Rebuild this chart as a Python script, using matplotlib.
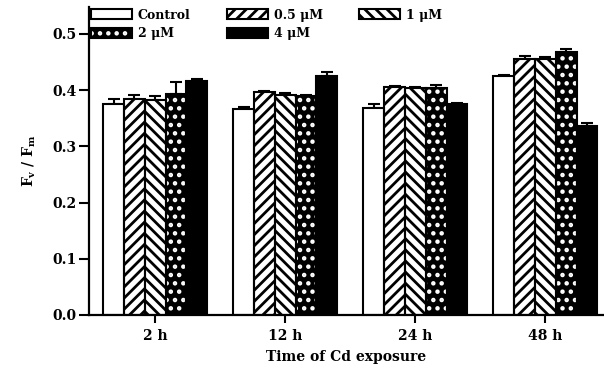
import numpy as np
import matplotlib
matplotlib.use('Agg')
import matplotlib.pyplot as plt
from matplotlib.patches import Patch

plt.rcParams['font.family'] = 'DejaVu Serif'
plt.rcParams['font.weight'] = 'bold'
plt.rcParams['axes.labelweight'] = 'bold'
plt.rcParams['mathtext.fontset'] = 'dejavuserif'
plt.rcParams['hatch.linewidth'] = 2.0

times = ['2 h', '12 h', '24 h', '48 h']
doses = ['Control', '0.5 μM', '1 μM', '2 μM', '4 μM']

# Fv/Fm per dose, one value per exposure time
control = [0.375, 0.367, 0.368, 0.425]
d05 = [0.385, 0.396, 0.405, 0.455]
d1 = [0.383, 0.391, 0.403, 0.456]
d2 = [0.393, 0.389, 0.404, 0.468]
d4 = [0.417, 0.426, 0.376, 0.336]

control_err = [0.010, 0.003, 0.007, 0.002]
d05_err = [0.007, 0.002, 0.002, 0.006]
d1_err = [0.006, 0.004, 0.002, 0.003]
d2_err = [0.022, 0.003, 0.006, 0.005]
d4_err = [0.003, 0.007, 0.002, 0.005]

vals = [control, d05, d1, d2, d4]
errs = [control_err, d05_err, d1_err, d2_err, d4_err]

fig = plt.figure(figsize=(6.04, 3.70), dpi=100)
ax = fig.add_axes([0.147, 0.149, 0.853, 0.832])

x = np.arange(len(times))
w = 0.16
styles = [
    dict(facecolor='white', edgecolor='black', hatch=None),
    dict(facecolor='white', edgecolor='black', hatch='///'),
    dict(facecolor='white', edgecolor='black', hatch='\\\\\\'),
    dict(facecolor='black', edgecolor='white', hatch='..'),
    dict(facecolor='black', edgecolor='black', hatch=None),
]

handles = []
for i in range(5):
    pos = x + (i - 2) * w
    st = styles[i]
    ax.bar(pos, vals[i], w, facecolor=st['facecolor'], edgecolor=st['edgecolor'],
           hatch=st['hatch'], linewidth=0, zorder=2)
    # outline drawn on top so white-hatched bars keep a black border
    ax.bar(pos, vals[i], w, facecolor='none', edgecolor='black', linewidth=1.5, zorder=3)
    ax.errorbar(pos, vals[i], yerr=[np.zeros(4), errs[i]], fmt='none',
                ecolor='black', elinewidth=1.5, capsize=4, capthick=1.5, zorder=1)
    handles.append((Patch(facecolor=st['facecolor'], edgecolor=st['edgecolor'],
                          hatch=st['hatch'], linewidth=0),
                    Patch(facecolor='none', edgecolor='black', linewidth=1.5)))

order = [0, 3, 1, 4, 2]
leg = ax.legend([handles[k] for k in order], [doses[k] for k in order],
                ncol=3, loc='upper left', bbox_to_anchor=(0.004, 0.995),
                frameon=False, fontsize=9, handlelength=3.3, handleheight=0.8,
                columnspacing=2.9, labelspacing=0.45, handletextpad=0.45,
                borderaxespad=0, borderpad=0)

ax.set_xlim(-0.51, 3.45)
ax.set_ylim(0, 0.548)
ax.set_xticks(x)
ax.set_xticklabels(times)
ax.set_yticks([0.0, 0.1, 0.2, 0.3, 0.4, 0.5])
ax.set_yticklabels(['0.0', '0.1', '0.2', '0.3', '0.4', '0.5'])
ax.tick_params(axis='y', direction='out', length=7, width=1.5, labelsize=10, pad=2)
ax.tick_params(axis='x', direction='out', length=6, width=1.5, labelsize=10, pad=4)
for s in ['top', 'right']:
    ax.spines[s].set_visible(False)
for s in ['left', 'bottom']:
    ax.spines[s].set_linewidth(1.6)

ax.set_xlabel('Time of Cd exposure', fontsize=10, labelpad=5)
ax.set_ylabel(r'$\mathbf{F_v\ /\ F_m}$', fontsize=10, labelpad=10)

fig.savefig('out.png', dpi=100)
